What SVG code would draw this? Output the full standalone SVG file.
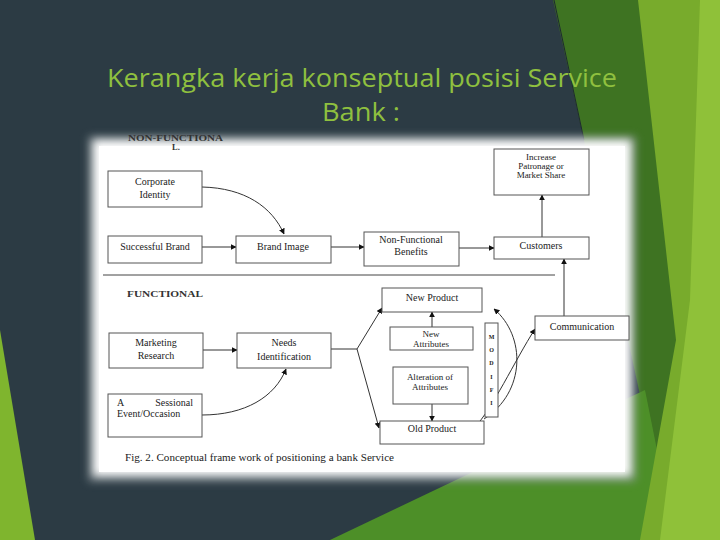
<svg xmlns="http://www.w3.org/2000/svg" width="720" height="540" viewBox="0 0 720 540">
<defs>
<style>
.box{fill:#fff;stroke:#555;stroke-width:1}
.lb,.ls,.le{font-family:"Liberation Serif","Times New Roman",serif;font-size:10px;fill:#222}
.lb{text-anchor:middle}
.ls{text-anchor:start}
.le{text-anchor:end}
.sm{font-size:9px}
.mo{font-size:6px;font-weight:bold;text-anchor:middle;font-family:"Liberation Serif","Times New Roman",serif;fill:#222}
.hd{font-family:"Liberation Serif","Times New Roman",serif;font-size:8.5px;font-weight:bold;fill:#333}
.cn{fill:none;stroke:#333;stroke-width:1}
.title{font-family:"Open Sans","DejaVu Sans",sans-serif;font-size:26px;fill:#8fc03f;text-anchor:middle}
</style>
<marker id="ah" viewBox="0 0 10 10" refX="9" refY="5" markerWidth="6" markerHeight="6" markerUnits="userSpaceOnUse" orient="auto">
<path d="M0,0 L10,5 L0,10 z" fill="#111"/>
</marker>
<filter id="soft" x="-10%" y="-10%" width="120%" height="120%">
<feGaussianBlur stdDeviation="4"/>
</filter>
</defs>

<!-- background -->
<rect width="720" height="540" fill="#2c3b44"/>
<polygon points="553,0 720,0 720,540 672,540" fill="#3e7322"/>
<polygon points="330,540 645,390 675,540" fill="#4d8f28"/>
<polygon points="638,0 720,0 720,540 640,540 676,340" fill="#78ab2c"/>
<polygon points="700,0 720,0 720,540 660,540 690,300" fill="#8fc139"/>
<polygon points="0,330 0,540 35,540" fill="#7fb52e"/>
<line x1="554" y1="0" x2="584" y2="140" stroke="#1e2a30" stroke-width="1"/>

<!-- title -->
<text class="title" x="362" y="87" textLength="510" lengthAdjust="spacingAndGlyphs">Kerangka kerja konseptual posisi Service</text>
<text class="title" x="361" y="121" textLength="78" lengthAdjust="spacingAndGlyphs">Bank :</text>

<!-- panel -->
<rect x="88" y="136" width="548" height="346" fill="#8a9499" filter="url(#soft)" opacity="0.6"/>
<rect x="93" y="140" width="538" height="336" fill="#fff" filter="url(#soft)"/>
<rect x="99" y="146" width="526" height="326" fill="#fff"/>

<text class="hd" x="128" y="141" textLength="95" lengthAdjust="spacingAndGlyphs">NON-FUNCTIONA</text>
<text class="hd" x="172" y="150">L.</text>
<text class="hd" x="127" y="297" textLength="76" lengthAdjust="spacingAndGlyphs">FUNCTIONAL</text>
<line x1="103" y1="275" x2="555" y2="275" stroke="#444" stroke-width="1"/>

<!-- connectors -->
<g id="connectors">
<path class="cn" d="M202,187 C245,188 272,207 284,234" marker-end="url(#ah)"/>
<path class="cn" d="M202,247 L236,247" marker-end="url(#ah)"/>
<path class="cn" d="M331,247 L364,247" marker-end="url(#ah)"/>
<path class="cn" d="M459,248 L494,248" marker-end="url(#ah)"/>
<path class="cn" d="M542,237 L542,195" marker-end="url(#ah)"/>
<path class="cn" d="M564,316 L564,259" marker-end="url(#ah)"/>
<path class="cn" d="M203,350 L237,350" marker-end="url(#ah)"/>
<path class="cn" d="M202,415 C245,415 275,397 286,369" marker-end="url(#ah)"/>
<path class="cn" d="M331,349 L357,349"/>
<path class="cn" d="M357,349 L382,308" marker-end="url(#ah)"/>
<path class="cn" d="M357,349 L379,428" marker-end="url(#ah)"/>
<path class="cn" d="M432,327 L432,312" marker-end="url(#ah)"/>
<path class="cn" d="M432,404 L432,421" marker-end="url(#ah)"/>
<path class="cn" d="M474,428 C492,410 515,360 535,329" marker-end="url(#ah)"/>
<path class="cn" d="M484,419 C526,392 526,336 494,309" marker-end="url(#ah)"/>
</g>

<!-- nodes -->
<g id="corporate-identity"><rect class="box" x="108" y="171" width="94" height="36" stroke="#888"/><text class="lb" x="155" y="185">Corporate</text><text class="lb" x="155" y="198">Identity</text></g>
<g id="successful-brand"><rect class="box" x="108" y="236" width="94" height="27"/><text class="lb" x="155" y="250">Successful Brand</text></g>
<g id="brand-image"><rect class="box" x="236" y="236" width="95" height="27"/><text class="lb" x="283" y="250">Brand Image</text></g>
<g id="non-functional-benefits"><rect class="box" x="364" y="232" width="95" height="34"/><text class="lb" x="411" y="243">Non-Functional</text><text class="lb" x="411" y="255">Benefits</text></g>
<g id="customers"><rect class="box" x="494" y="237" width="95" height="22"/><text class="lb" x="541" y="249">Customers</text></g>
<g id="increase-patronage"><rect class="box" x="494" y="149" width="95" height="46"/><text class="lb sm" x="541" y="160">Increase</text><text class="lb sm" x="541" y="169">Patronage or</text><text class="lb sm" x="541" y="178">Market Share</text></g>
<g id="marketing-research"><rect class="box" x="109" y="333" width="94" height="35"/><text class="lb" x="156" y="346">Marketing</text><text class="lb" x="156" y="359">Research</text></g>
<g id="needs-identification"><rect class="box" x="237" y="333" width="94" height="35"/><text class="lb" x="284" y="346">Needs</text><text class="lb" x="284" y="360">Identification</text></g>
<g id="sessional-event"><rect class="box" x="108" y="394" width="94" height="43"/><text class="ls" x="117" y="406">A</text><text class="le" x="193" y="406">Sessional</text><text class="ls" x="117" y="417">Event/Occasion</text></g>
<g id="new-product"><rect class="box" x="382" y="288" width="100" height="24"/><text class="lb" x="432" y="301">New Product</text></g>
<g id="new-attributes"><rect class="box" x="390" y="327" width="83" height="23" stroke="#888"/><text class="lb sm" x="431" y="337">New</text><text class="lb sm" x="431" y="347">Attributes</text></g>
<g id="alteration-of-attributes"><rect class="box" x="393" y="367" width="75" height="37" stroke="#333" stroke-width="1.5"/><text class="lb sm" x="430" y="380">Alteration of</text><text class="lb sm" x="430" y="390">Attributes</text></g>
<g id="old-product"><rect class="box" x="380" y="421" width="104" height="23" stroke="#888"/><text class="lb" x="432" y="432">Old Product</text></g>
<g id="modify"><rect class="box" x="485" y="323" width="13" height="94" fill="none"/>
<text class="mo" x="491.5" y="339">M</text><text class="mo" x="491.5" y="352">O</text><text class="mo" x="491.5" y="365">D</text><text class="mo" x="491.5" y="379">I</text><text class="mo" x="491.5" y="392">F</text><text class="mo" x="491.5" y="405">I</text></g>
<g id="communication"><rect class="box" x="535" y="316" width="94" height="24"/><text class="lb" x="582" y="330">Communication</text></g>

<text class="ls" x="125" y="461" textLength="269" lengthAdjust="spacingAndGlyphs">Fig. 2. Conceptual frame work of positioning a bank Service</text>
</svg>
